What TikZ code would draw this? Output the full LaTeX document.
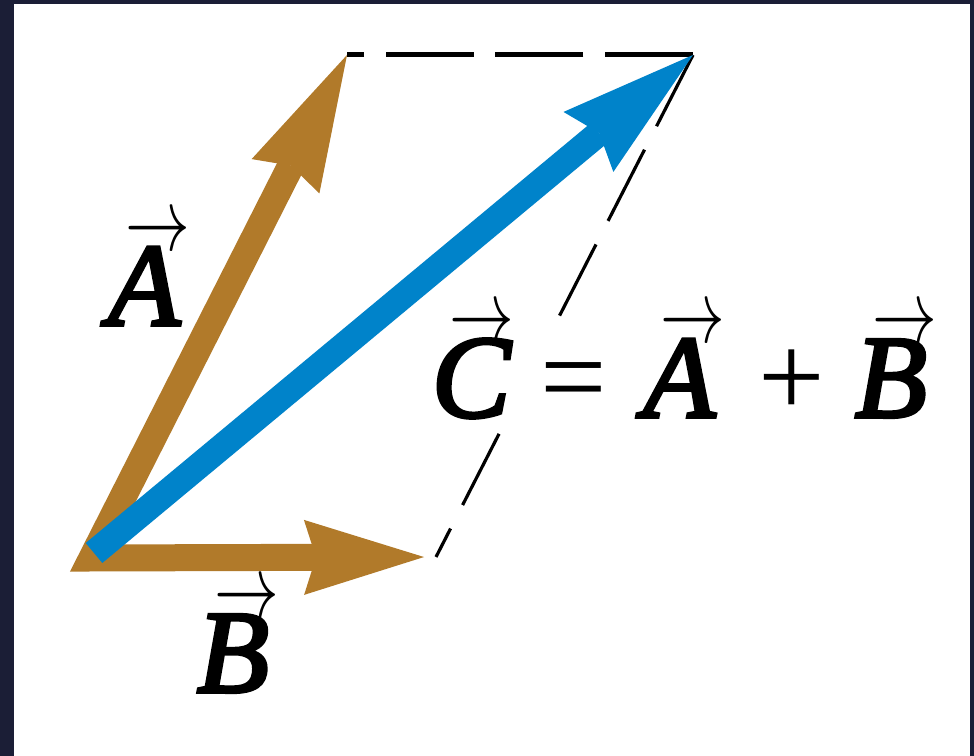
\documentclass[tikz,border=0pt]{standalone}
\usepackage{fontspec}
\usepackage{graphicx}
\setmainfont{Liberation Serif}
\usetikzlibrary{arrows.meta}
\definecolor{frame}{HTML}{1B1E36}
\definecolor{vecbrown}{HTML}{B17A2A}
\definecolor{vecblue}{HTML}{0083CA}
\newcommand{\vecletter}[1]{{\itshape\addfontfeature{FakeBold=3}#1}}
\newcommand{\vecsym}[1]{\makebox[0pt][l]{\hspace{0.15em}\raisebox{18.5pt}{\scalebox{0.65}[0.9]{$\rightarrow$}}}\vecletter{#1}}

\begin{document}
\begin{tikzpicture}[x=0.25pt, y=-0.25pt,
    brownvec/.style={draw=vecbrown, line width=6.75pt, line join=miter},
    bluevec/.style={draw=vecblue, line width=6.5pt},
    edge/.style={draw=black, line width=0.8pt, dash pattern=on 20pt off 6.6pt},
    lbl/.style={inner sep=0pt, font=\fontsize{29.5}{32}\selectfont}]
  \fill[frame] (0,0) rectangle (974,756);
  \fill[white] (14,4) rectangle (970,756);
  \useasboundingbox (0,0) rectangle (974,756);

  \coordinate (O) at (92,558);
  \coordinate (Atip) at (347,55);
  \coordinate (Ctip) at (693,55);
  \coordinate (P) at (436,557);
  \coordinate (Cs) at (94,553);

  % parallelogram sides
  \draw[edge, line width=1.25pt, dash pattern=on 22pt off 5.4pt] (Ctip) -- (Atip);
  \draw[edge] (Ctip) -- (P);

  % A and B
  \draw[brownvec, {Stealth[length=34pt, width=19pt, inset=3pt, line width=0pt]}-{Stealth[length=30pt, width=18.75pt, inset=3pt, line width=0pt]}, shorten >=3pt] (Atip) -- (O) -- (P);
  % C = A + B
  \draw[bluevec, -{Stealth[length=34pt, width=19.5pt, inset=3.5pt, line width=0pt]}] (Cs) -- (Ctip);

  \node[lbl, anchor=base] (labA) at (144,325) {\vecsym{A}};
  \node[lbl, anchor=base] (labB) at (233,692) {\vecsym{B}};
  \node[lbl, anchor=base west, fill=white, text height=21.75pt, text depth=3pt] (labC) at (431,417)
    {\vecsym{C} = \hspace{0.06em}\vecsym{A}\hspace{0.12em} + \vecsym{B}};
\end{tikzpicture}
\end{document}
